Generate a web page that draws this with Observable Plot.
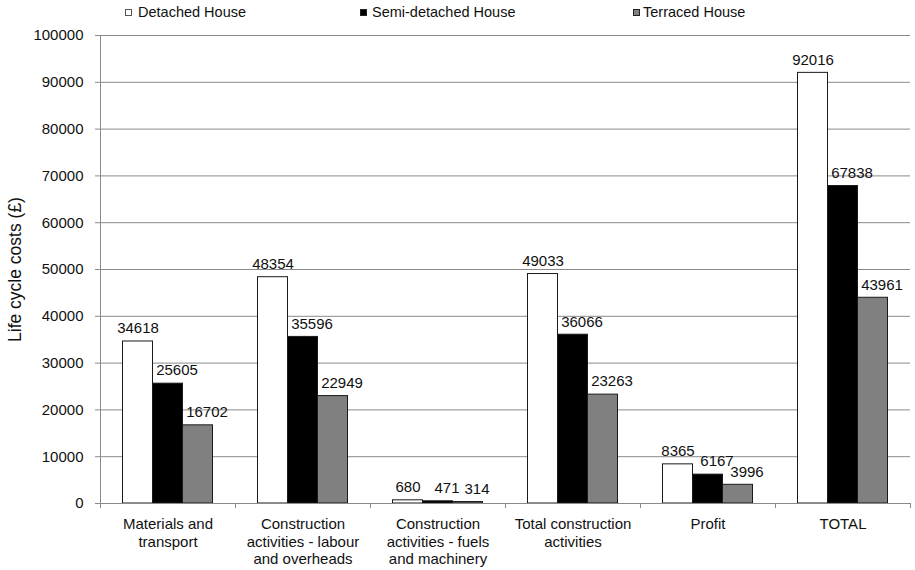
<!DOCTYPE html>
<html>
<head>
<meta charset="utf-8">
<script src="https://cdn.jsdelivr.net/npm/d3@7"></script>
<script src="https://cdn.jsdelivr.net/npm/@observablehq/plot@0.6"></script>
<style>
  body { margin: 0; background: #fff; font-family: "Liberation Sans", Arial, sans-serif; }
  #wrap { width: 915px; position: relative; }
  #legend { position: relative; height: 24px; width: 915px; font-size: 14.5px; color: #111; }
  .item { position: absolute; top: 4px; white-space: nowrap; line-height: 17px; }
  .sw { position: absolute; top: 4px; width: 7px; height: 7px; box-sizing: border-box; border: 1px solid #333; }
  svg { display: block; }
</style>
</head>
<body>
<div id="wrap">
  <div id="legend"></div>
  <div id="chart"></div>
</div>
<script>
// ---- data ----
const categories = [
  "Materials and transport",
  "Construction activities - labour and overheads",
  "Construction activities - fuels and machinery",
  "Total construction activities",
  "Profit",
  "TOTAL"
];
const categoryLabels = [
  "Materials and\ntransport",
  "Construction\nactivities - labour\nand overheads",
  "Construction\nactivities - fuels\nand machinery",
  "Total construction\nactivities",
  "Profit",
  "TOTAL"
];
const seriesNames = ["Detached House", "Semi-detached House", "Terraced House"];
const detached = [34618, 48354, 680, 49033, 8365, 92016];
const semiDetached = [25605, 35596, 471, 36066, 6167, 67838];
const terraced = [16702, 22949, 314, 23263, 3996, 43961];
const yTicks = [0, 10000, 20000, 30000, 40000, 50000, 60000, 70000, 80000, 90000, 100000];
const yLabel = "Life cycle costs (£)";

// ---- styling ----
const fills = ["#ffffff", "#000000", "#808080"];
const W = 915, H = 546, ML = 100, MR = 5, MT = 11, MB = 67;
const band = (W - ML - MR) / categories.length;
const barW = 30;
const groupLeft = (band - 3 * barW) / 2;
const labelShift = [0, 9, 9];

const seriesValues = [detached, semiDetached, terraced];
const rows = categories.flatMap((c, i) =>
  seriesNames.map((s, k) => ({category: c, series: s, k, value: seriesValues[k][i]}))
);
const labelOf = new Map(categories.map((c, i) => [c, categoryLabels[i]]));

// legend
const legendPos = [[125, 138], [360, 372], [633, 643]];
const legend = document.getElementById("legend");
seriesNames.forEach((s, k) => {
  const sw = document.createElement("span");
  sw.className = "sw";
  sw.style.left = legendPos[k][0] + "px";
  sw.style.top = "9px";
  sw.style.background = fills[k];
  sw.style.borderColor = k === 0 ? "#555" : "#222";
  legend.appendChild(sw);
  const t = document.createElement("span");
  t.className = "item";
  t.style.left = legendPos[k][1] + "px";
  t.textContent = s;
  legend.appendChild(t);
});

const chart = Plot.plot({
  width: W,
  height: H,
  marginLeft: ML,
  marginRight: MR,
  marginTop: MT,
  marginBottom: MB,
  style: {fontFamily: "Liberation Sans, Arial, sans-serif", color: "#111", background: "#fff"},
  x: {domain: categories, padding: 0, round: false, axis: null},
  y: {domain: [0, 100000], axis: null},
  marks: [
    Plot.gridY(yTicks, {stroke: "#8a8a8a", strokeOpacity: 1, strokeWidth: 1}),
    Plot.axisY(yTicks, {
      tickSize: 5, tickPadding: 12, fontSize: 15,
      tickFormat: d => String(d), stroke: "#8a8a8a", label: null
    }),
    // y axis line
    Plot.ruleX([categories[0]], {dx: -band / 2, y1: 0, y2: 100000, stroke: "#8a8a8a"}),
    // category boundary ticks
    Plot.ruleX(categories, {dx: -band / 2, y1: 0, y2: -1100, stroke: "#8a8a8a"}),
    Plot.ruleX([categories[categories.length - 1]], {dx: band / 2, y1: 0, y2: -1100, stroke: "#8a8a8a"}),
    ...seriesNames.map((s, k) =>
      Plot.barY(rows, {
        filter: d => d.k === k,
        x: "category", y: "value",
        fill: fills[k], stroke: "#1a1a1a", strokeWidth: 1,
        insetLeft: groupLeft + k * barW,
        insetRight: band - groupLeft - (k + 1) * barW
      })
    ),
    Plot.ruleY([0], {stroke: "#8a8a8a"}),
    ...seriesNames.map((s, k) =>
      Plot.text(rows, {
        filter: d => d.k === k,
        x: "category", y: "value",
        text: d => String(d.value),
        dx: -band / 2 + groupLeft + k * barW + barW / 2 + labelShift[k],
        dy: -13, fontSize: 15, fill: "#111"
      })
    ),
    Plot.text(categories, {
      x: d => d, y: () => 0,
      text: d => labelOf.get(d),
      lineAnchor: "top", dy: 13, fontSize: 15, lineHeight: 1.17, fill: "#111"
    }),
    Plot.text([yLabel], {
      frameAnchor: "left", textAnchor: "middle", rotate: -90, dx: -85, fontSize: 17.5, fill: "#111"
    })
  ]
});
document.getElementById("chart").appendChild(chart);
</script>
</body>
</html>
